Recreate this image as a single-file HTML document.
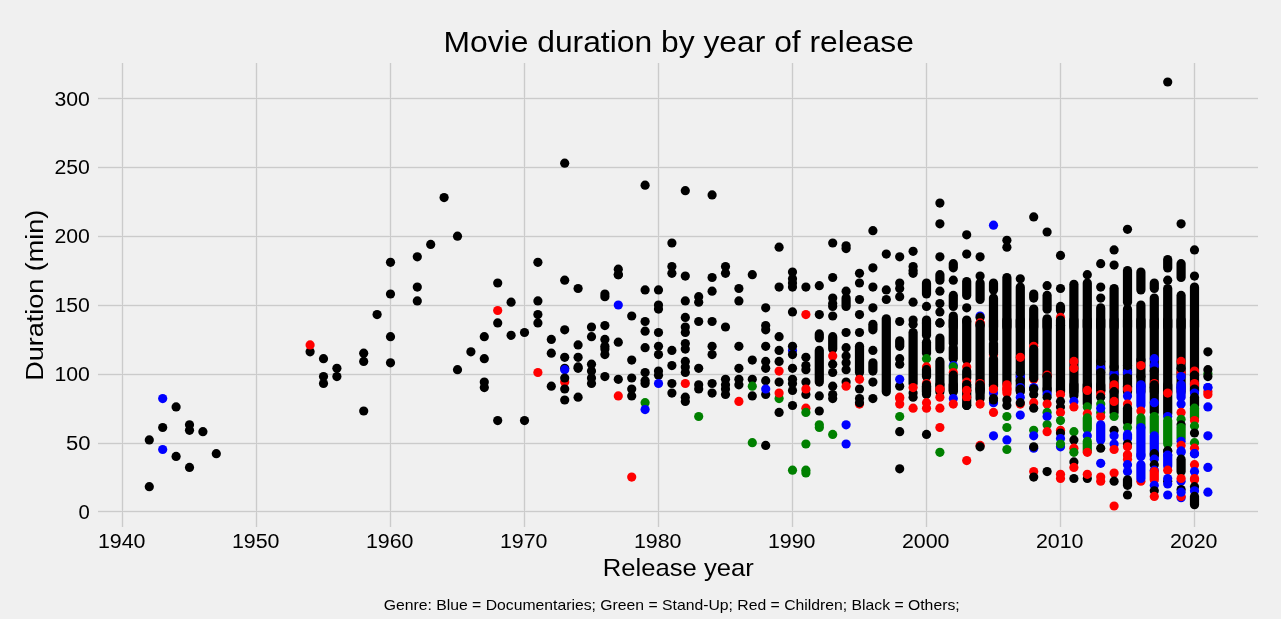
<!DOCTYPE html>
<html><head><meta charset="utf-8"><style>
html,body{margin:0;padding:0;background:#f0f0f0;width:1281px;height:619px;overflow:hidden}
svg{display:block;will-change:transform;font-family:"Liberation Sans",sans-serif}
</style></head><body>
<svg width="1281" height="619" viewBox="0 0 1281 619">
<rect width="1281" height="619" fill="#f0f0f0"/>
<g shape-rendering="crispEdges">
<rect x="121" y="63" width="3" height="464" fill="#e9e9e9"/>
<rect x="255" y="63" width="3" height="464" fill="#e9e9e9"/>
<rect x="389" y="63" width="3" height="464" fill="#e9e9e9"/>
<rect x="523" y="63" width="3" height="464" fill="#e9e9e9"/>
<rect x="657" y="63" width="3" height="464" fill="#e9e9e9"/>
<rect x="791" y="63" width="3" height="464" fill="#e9e9e9"/>
<rect x="925" y="63" width="3" height="464" fill="#e9e9e9"/>
<rect x="1059" y="63" width="3" height="464" fill="#e9e9e9"/>
<rect x="1193" y="63" width="3" height="464" fill="#e9e9e9"/>
<rect x="98" y="510" width="1160" height="3" fill="#e9e9e9"/>
<rect x="98" y="442" width="1160" height="3" fill="#e9e9e9"/>
<rect x="98" y="373" width="1160" height="3" fill="#e9e9e9"/>
<rect x="98" y="304" width="1160" height="3" fill="#e9e9e9"/>
<rect x="98" y="235" width="1160" height="3" fill="#e9e9e9"/>
<rect x="98" y="166" width="1160" height="3" fill="#e9e9e9"/>
<rect x="98" y="97" width="1160" height="3" fill="#e9e9e9"/>
<rect x="122" y="63" width="1" height="464" fill="#cbcbcb"/>
<rect x="256" y="63" width="1" height="464" fill="#cbcbcb"/>
<rect x="390" y="63" width="1" height="464" fill="#cbcbcb"/>
<rect x="524" y="63" width="1" height="464" fill="#cbcbcb"/>
<rect x="658" y="63" width="1" height="464" fill="#cbcbcb"/>
<rect x="792" y="63" width="1" height="464" fill="#cbcbcb"/>
<rect x="926" y="63" width="1" height="464" fill="#cbcbcb"/>
<rect x="1060" y="63" width="1" height="464" fill="#cbcbcb"/>
<rect x="1194" y="63" width="1" height="464" fill="#cbcbcb"/>
<rect x="98" y="511" width="1160" height="1" fill="#cbcbcb"/>
<rect x="98" y="443" width="1160" height="1" fill="#cbcbcb"/>
<rect x="98" y="374" width="1160" height="1" fill="#cbcbcb"/>
<rect x="98" y="305" width="1160" height="1" fill="#cbcbcb"/>
<rect x="98" y="236" width="1160" height="1" fill="#cbcbcb"/>
<rect x="98" y="167" width="1160" height="1" fill="#cbcbcb"/>
<rect x="98" y="98" width="1160" height="1" fill="#cbcbcb"/>
</g>
<g font-size="20.1" fill="#000">
<text x="78.6" y="518.6" textLength="11.3" lengthAdjust="spacingAndGlyphs">0</text><text x="66.1" y="449.8" textLength="24.51" lengthAdjust="spacingAndGlyphs">50</text><text x="54.4" y="380.9" textLength="35.43" lengthAdjust="spacingAndGlyphs">100</text><text x="54.4" y="312.1" textLength="35.43" lengthAdjust="spacingAndGlyphs">150</text><text x="54.4" y="243.3" textLength="35.43" lengthAdjust="spacingAndGlyphs">200</text><text x="54.4" y="174.4" textLength="35.43" lengthAdjust="spacingAndGlyphs">250</text><text x="54.4" y="105.6" textLength="35.43" lengthAdjust="spacingAndGlyphs">300</text>
<text x="97.9" y="548.0" textLength="47.62" lengthAdjust="spacingAndGlyphs">1940</text><text x="231.9" y="548.0" textLength="47.62" lengthAdjust="spacingAndGlyphs">1950</text><text x="365.9" y="548.0" textLength="47.62" lengthAdjust="spacingAndGlyphs">1960</text><text x="499.9" y="548.0" textLength="47.62" lengthAdjust="spacingAndGlyphs">1970</text><text x="633.9" y="548.0" textLength="47.62" lengthAdjust="spacingAndGlyphs">1980</text><text x="767.9" y="548.0" textLength="47.62" lengthAdjust="spacingAndGlyphs">1990</text><text x="901.9" y="548.0" textLength="47.62" lengthAdjust="spacingAndGlyphs">2000</text><text x="1035.9" y="548.0" textLength="47.62" lengthAdjust="spacingAndGlyphs">2010</text><text x="1169.9" y="548.0" textLength="47.62" lengthAdjust="spacingAndGlyphs">2020</text>
</g>
<text x="443.5" y="51.9" font-size="30.3" textLength="470.37" lengthAdjust="spacingAndGlyphs">Movie duration by year of release</text>
<text x="602.75" y="576" font-size="24.8" textLength="150.98" lengthAdjust="spacingAndGlyphs">Release year</text>
<text transform="translate(43.2 380.8) rotate(-90)" x="0" y="0" font-size="24.8" textLength="171.17" lengthAdjust="spacingAndGlyphs">Duration (min)</text>
<text x="383.7" y="610.2" font-size="14.4" textLength="575.95" lengthAdjust="spacingAndGlyphs">Genre: Blue = Documentaries; Green = Stand-Up; Red = Children; Black = Others;</text>
<g>
<circle cx="149.3" cy="439.9" r="4.6" fill="#000"/>
<circle cx="149.3" cy="486.7" r="4.6" fill="#000"/>
<circle cx="162.7" cy="398.6" r="4.6" fill="#00f"/>
<circle cx="162.7" cy="427.5" r="4.6" fill="#000"/>
<circle cx="162.7" cy="449.5" r="4.6" fill="#00f"/>
<circle cx="176.1" cy="406.9" r="4.6" fill="#000"/>
<circle cx="176.1" cy="456.4" r="4.6" fill="#000"/>
<circle cx="189.5" cy="424.8" r="4.6" fill="#000"/>
<circle cx="189.5" cy="430.3" r="4.6" fill="#000"/>
<circle cx="189.5" cy="467.4" r="4.6" fill="#000"/>
<circle cx="202.9" cy="431.7" r="4.6" fill="#000"/>
<circle cx="216.3" cy="453.7" r="4.6" fill="#000"/>
<circle cx="310.1" cy="351.8" r="4.6" fill="#000"/>
<circle cx="310.1" cy="344.9" r="4.6" fill="#f00"/>
<circle cx="323.5" cy="358.7" r="4.6" fill="#000"/>
<circle cx="323.5" cy="376.6" r="4.6" fill="#000"/>
<circle cx="323.5" cy="383.5" r="4.6" fill="#000"/>
<circle cx="336.9" cy="368.3" r="4.6" fill="#000"/>
<circle cx="336.9" cy="376.6" r="4.6" fill="#000"/>
<circle cx="363.7" cy="353.2" r="4.6" fill="#000"/>
<circle cx="363.7" cy="361.4" r="4.6" fill="#000"/>
<circle cx="363.7" cy="411.0" r="4.6" fill="#000"/>
<circle cx="377.1" cy="314.6" r="4.6" fill="#000"/>
<circle cx="390.5" cy="262.3" r="4.6" fill="#000"/>
<circle cx="390.5" cy="294.0" r="4.6" fill="#000"/>
<circle cx="390.5" cy="336.7" r="4.6" fill="#000"/>
<circle cx="390.5" cy="362.8" r="4.6" fill="#000"/>
<circle cx="417.3" cy="256.8" r="4.6" fill="#000"/>
<circle cx="430.7" cy="244.4" r="4.6" fill="#000"/>
<circle cx="444.1" cy="197.6" r="4.6" fill="#000"/>
<circle cx="457.5" cy="236.2" r="4.6" fill="#000"/>
<circle cx="537.9" cy="262.3" r="4.6" fill="#000"/>
<circle cx="564.7" cy="163.2" r="4.6" fill="#000"/>
<circle cx="618.3" cy="269.2" r="4.6" fill="#000"/>
<circle cx="618.3" cy="274.7" r="4.6" fill="#000"/>
<circle cx="645.1" cy="185.2" r="4.6" fill="#000"/>
<circle cx="417.3" cy="287.1" r="4.6" fill="#000"/>
<circle cx="417.3" cy="300.9" r="4.6" fill="#000"/>
<circle cx="457.5" cy="369.7" r="4.6" fill="#000"/>
<circle cx="470.9" cy="351.8" r="4.6" fill="#000"/>
<circle cx="484.3" cy="336.7" r="4.6" fill="#000"/>
<circle cx="484.3" cy="358.7" r="4.6" fill="#000"/>
<circle cx="484.3" cy="382.1" r="4.6" fill="#000"/>
<circle cx="484.3" cy="387.6" r="4.6" fill="#000"/>
<circle cx="497.7" cy="283.0" r="4.6" fill="#000"/>
<circle cx="497.7" cy="322.9" r="4.6" fill="#000"/>
<circle cx="497.7" cy="310.5" r="4.6" fill="#f00"/>
<circle cx="511.1" cy="302.2" r="4.6" fill="#000"/>
<circle cx="511.1" cy="335.3" r="4.6" fill="#000"/>
<circle cx="524.5" cy="332.5" r="4.6" fill="#000"/>
<circle cx="537.9" cy="300.9" r="4.6" fill="#000"/>
<circle cx="537.9" cy="314.6" r="4.6" fill="#000"/>
<circle cx="537.9" cy="322.9" r="4.6" fill="#000"/>
<circle cx="537.9" cy="372.5" r="4.6" fill="#f00"/>
<circle cx="551.3" cy="339.4" r="4.6" fill="#000"/>
<circle cx="551.3" cy="353.2" r="4.6" fill="#000"/>
<circle cx="551.3" cy="386.2" r="4.6" fill="#000"/>
<circle cx="564.7" cy="280.2" r="4.6" fill="#000"/>
<circle cx="564.7" cy="329.8" r="4.6" fill="#000"/>
<circle cx="564.7" cy="357.3" r="4.6" fill="#000"/>
<circle cx="564.7" cy="368.3" r="4.6" fill="#000"/>
<circle cx="564.7" cy="369.7" r="4.6" fill="#00f"/>
<circle cx="564.7" cy="382.1" r="4.6" fill="#f00"/>
<circle cx="564.7" cy="378.0" r="4.6" fill="#000"/>
<circle cx="564.7" cy="389.0" r="4.6" fill="#000"/>
<circle cx="578.1" cy="288.5" r="4.6" fill="#000"/>
<circle cx="578.1" cy="344.9" r="4.6" fill="#000"/>
<circle cx="578.1" cy="357.3" r="4.6" fill="#000"/>
<circle cx="578.1" cy="366.9" r="4.6" fill="#000"/>
<circle cx="578.1" cy="368.3" r="4.6" fill="#000"/>
<circle cx="591.5" cy="327.0" r="4.6" fill="#000"/>
<circle cx="591.5" cy="336.7" r="4.6" fill="#000"/>
<circle cx="591.5" cy="364.2" r="4.6" fill="#000"/>
<circle cx="591.5" cy="371.1" r="4.6" fill="#000"/>
<circle cx="591.5" cy="378.0" r="4.6" fill="#000"/>
<circle cx="591.5" cy="383.5" r="4.6" fill="#000"/>
<circle cx="604.9" cy="294.0" r="4.6" fill="#000"/>
<circle cx="604.9" cy="296.7" r="4.6" fill="#000"/>
<circle cx="604.9" cy="325.6" r="4.6" fill="#000"/>
<circle cx="604.9" cy="339.4" r="4.6" fill="#000"/>
<circle cx="604.9" cy="346.3" r="4.6" fill="#000"/>
<circle cx="604.9" cy="349.1" r="4.6" fill="#000"/>
<circle cx="604.9" cy="354.6" r="4.6" fill="#000"/>
<circle cx="604.9" cy="376.6" r="4.6" fill="#000"/>
<circle cx="618.3" cy="274.7" r="4.6" fill="#000"/>
<circle cx="618.3" cy="305.0" r="4.6" fill="#00f"/>
<circle cx="618.3" cy="342.2" r="4.6" fill="#000"/>
<circle cx="618.3" cy="379.3" r="4.6" fill="#000"/>
<circle cx="618.3" cy="395.9" r="4.6" fill="#f00"/>
<circle cx="631.7" cy="316.0" r="4.6" fill="#000"/>
<circle cx="631.7" cy="360.1" r="4.6" fill="#000"/>
<circle cx="631.7" cy="378.0" r="4.6" fill="#000"/>
<circle cx="631.7" cy="389.0" r="4.6" fill="#000"/>
<circle cx="631.7" cy="395.9" r="4.6" fill="#000"/>
<circle cx="645.1" cy="289.9" r="4.6" fill="#000"/>
<circle cx="645.1" cy="321.5" r="4.6" fill="#000"/>
<circle cx="645.1" cy="331.2" r="4.6" fill="#000"/>
<circle cx="645.1" cy="347.7" r="4.6" fill="#000"/>
<circle cx="645.1" cy="372.5" r="4.6" fill="#000"/>
<circle cx="645.1" cy="380.7" r="4.6" fill="#000"/>
<circle cx="645.1" cy="383.5" r="4.6" fill="#000"/>
<circle cx="658.5" cy="289.9" r="4.6" fill="#000"/>
<circle cx="658.5" cy="305.0" r="4.6" fill="#000"/>
<circle cx="658.5" cy="309.1" r="4.6" fill="#000"/>
<circle cx="658.5" cy="332.5" r="4.6" fill="#000"/>
<circle cx="658.5" cy="346.3" r="4.6" fill="#000"/>
<circle cx="658.5" cy="354.6" r="4.6" fill="#000"/>
<circle cx="658.5" cy="371.1" r="4.6" fill="#000"/>
<circle cx="658.5" cy="375.2" r="4.6" fill="#000"/>
<circle cx="658.5" cy="383.5" r="4.6" fill="#00f"/>
<circle cx="497.7" cy="420.6" r="4.6" fill="#000"/>
<circle cx="524.5" cy="420.6" r="4.6" fill="#000"/>
<circle cx="564.7" cy="400.0" r="4.6" fill="#000"/>
<circle cx="578.1" cy="397.2" r="4.6" fill="#000"/>
<circle cx="645.1" cy="402.7" r="4.6" fill="#008000"/>
<circle cx="645.1" cy="409.6" r="4.6" fill="#00f"/>
<circle cx="631.7" cy="477.1" r="4.6" fill="#f00"/>
<circle cx="671.9" cy="243.0" r="4.6" fill="#000"/>
<circle cx="671.9" cy="266.5" r="4.6" fill="#000"/>
<circle cx="671.9" cy="273.3" r="4.6" fill="#000"/>
<circle cx="685.3" cy="190.7" r="4.6" fill="#000"/>
<circle cx="685.3" cy="276.1" r="4.6" fill="#000"/>
<circle cx="712.1" cy="194.9" r="4.6" fill="#000"/>
<circle cx="712.1" cy="277.5" r="4.6" fill="#000"/>
<circle cx="725.5" cy="266.5" r="4.6" fill="#000"/>
<circle cx="725.5" cy="273.3" r="4.6" fill="#000"/>
<circle cx="752.3" cy="274.7" r="4.6" fill="#000"/>
<circle cx="779.1" cy="247.2" r="4.6" fill="#000"/>
<circle cx="792.5" cy="272.0" r="4.6" fill="#000"/>
<circle cx="832.7" cy="243.0" r="4.6" fill="#000"/>
<circle cx="832.7" cy="277.5" r="4.6" fill="#000"/>
<circle cx="846.1" cy="245.8" r="4.6" fill="#000"/>
<circle cx="846.1" cy="248.6" r="4.6" fill="#000"/>
<circle cx="859.5" cy="273.3" r="4.6" fill="#000"/>
<circle cx="872.9" cy="230.7" r="4.6" fill="#000"/>
<circle cx="872.9" cy="267.8" r="4.6" fill="#000"/>
<circle cx="886.3" cy="254.1" r="4.6" fill="#000"/>
<circle cx="899.7" cy="256.8" r="4.6" fill="#000"/>
<circle cx="913.1" cy="251.3" r="4.6" fill="#000"/>
<circle cx="913.1" cy="266.5" r="4.6" fill="#000"/>
<circle cx="913.1" cy="270.6" r="4.6" fill="#000"/>
<circle cx="913.1" cy="273.3" r="4.6" fill="#000"/>
<circle cx="671.9" cy="350.4" r="4.6" fill="#000"/>
<circle cx="671.9" cy="365.6" r="4.6" fill="#000"/>
<circle cx="671.9" cy="383.5" r="4.6" fill="#000"/>
<circle cx="671.9" cy="393.1" r="4.6" fill="#000"/>
<circle cx="685.3" cy="300.9" r="4.6" fill="#000"/>
<circle cx="685.3" cy="317.4" r="4.6" fill="#000"/>
<circle cx="685.3" cy="327.0" r="4.6" fill="#000"/>
<circle cx="685.3" cy="332.5" r="4.6" fill="#000"/>
<circle cx="685.3" cy="343.5" r="4.6" fill="#000"/>
<circle cx="685.3" cy="349.1" r="4.6" fill="#000"/>
<circle cx="685.3" cy="361.4" r="4.6" fill="#000"/>
<circle cx="685.3" cy="366.9" r="4.6" fill="#000"/>
<circle cx="685.3" cy="372.5" r="4.6" fill="#000"/>
<circle cx="685.3" cy="397.2" r="4.6" fill="#000"/>
<circle cx="685.3" cy="383.5" r="4.6" fill="#f00"/>
<circle cx="698.7" cy="296.7" r="4.6" fill="#000"/>
<circle cx="698.7" cy="302.2" r="4.6" fill="#000"/>
<circle cx="698.7" cy="321.5" r="4.6" fill="#000"/>
<circle cx="698.7" cy="368.3" r="4.6" fill="#000"/>
<circle cx="698.7" cy="384.8" r="4.6" fill="#000"/>
<circle cx="698.7" cy="389.0" r="4.6" fill="#000"/>
<circle cx="712.1" cy="291.2" r="4.6" fill="#000"/>
<circle cx="712.1" cy="321.5" r="4.6" fill="#000"/>
<circle cx="712.1" cy="346.3" r="4.6" fill="#000"/>
<circle cx="712.1" cy="354.6" r="4.6" fill="#000"/>
<circle cx="712.1" cy="383.5" r="4.6" fill="#000"/>
<circle cx="712.1" cy="393.1" r="4.6" fill="#000"/>
<circle cx="725.5" cy="327.0" r="4.6" fill="#000"/>
<circle cx="725.5" cy="379.3" r="4.6" fill="#000"/>
<circle cx="725.5" cy="384.8" r="4.6" fill="#000"/>
<circle cx="725.5" cy="389.0" r="4.6" fill="#000"/>
<circle cx="725.5" cy="394.5" r="4.6" fill="#000"/>
<circle cx="738.9" cy="288.5" r="4.6" fill="#000"/>
<circle cx="738.9" cy="300.9" r="4.6" fill="#000"/>
<circle cx="738.9" cy="346.3" r="4.6" fill="#000"/>
<circle cx="738.9" cy="368.3" r="4.6" fill="#000"/>
<circle cx="738.9" cy="379.3" r="4.6" fill="#000"/>
<circle cx="738.9" cy="384.8" r="4.6" fill="#000"/>
<circle cx="752.3" cy="360.1" r="4.6" fill="#000"/>
<circle cx="752.3" cy="379.3" r="4.6" fill="#000"/>
<circle cx="752.3" cy="395.9" r="4.6" fill="#000"/>
<circle cx="752.3" cy="386.2" r="4.6" fill="#008000"/>
<circle cx="765.7" cy="307.8" r="4.6" fill="#000"/>
<circle cx="765.7" cy="325.6" r="4.6" fill="#000"/>
<circle cx="765.7" cy="329.8" r="4.6" fill="#000"/>
<circle cx="765.7" cy="346.3" r="4.6" fill="#000"/>
<circle cx="765.7" cy="361.4" r="4.6" fill="#000"/>
<circle cx="765.7" cy="368.3" r="4.6" fill="#000"/>
<circle cx="765.7" cy="380.7" r="4.6" fill="#000"/>
<circle cx="765.7" cy="394.5" r="4.6" fill="#000"/>
<circle cx="765.7" cy="389.0" r="4.6" fill="#00f"/>
<circle cx="779.1" cy="287.1" r="4.6" fill="#000"/>
<circle cx="779.1" cy="336.7" r="4.6" fill="#000"/>
<circle cx="779.1" cy="350.4" r="4.6" fill="#000"/>
<circle cx="779.1" cy="361.4" r="4.6" fill="#000"/>
<circle cx="779.1" cy="382.1" r="4.6" fill="#000"/>
<circle cx="779.1" cy="371.1" r="4.6" fill="#f00"/>
<circle cx="779.1" cy="398.6" r="4.6" fill="#008000"/>
<circle cx="779.1" cy="393.1" r="4.6" fill="#f00"/>
<circle cx="792.5" cy="278.8" r="4.6" fill="#000"/>
<circle cx="792.5" cy="283.0" r="4.6" fill="#000"/>
<circle cx="792.5" cy="287.1" r="4.6" fill="#000"/>
<circle cx="792.5" cy="311.9" r="4.6" fill="#000"/>
<circle cx="792.5" cy="350.4" r="4.6" fill="#00f"/>
<circle cx="792.5" cy="346.3" r="4.6" fill="#000"/>
<circle cx="792.5" cy="354.6" r="4.6" fill="#000"/>
<circle cx="792.5" cy="368.3" r="4.6" fill="#000"/>
<circle cx="792.5" cy="379.3" r="4.6" fill="#000"/>
<circle cx="792.5" cy="383.5" r="4.6" fill="#000"/>
<circle cx="792.5" cy="390.4" r="4.6" fill="#000"/>
<circle cx="805.9" cy="287.1" r="4.6" fill="#000"/>
<circle cx="805.9" cy="357.3" r="4.6" fill="#000"/>
<circle cx="805.9" cy="365.6" r="4.6" fill="#000"/>
<circle cx="805.9" cy="369.7" r="4.6" fill="#000"/>
<circle cx="805.9" cy="382.1" r="4.6" fill="#000"/>
<circle cx="805.9" cy="394.5" r="4.6" fill="#000"/>
<circle cx="805.9" cy="314.6" r="4.6" fill="#f00"/>
<circle cx="805.9" cy="389.0" r="4.6" fill="#f00"/>
<circle cx="819.3" cy="285.7" r="4.6" fill="#000"/>
<circle cx="819.3" cy="314.6" r="4.6" fill="#000"/>
<rect x="814.7" y="329.3" width="9.2" height="13.3" rx="4.6" fill="#000"/>
<rect x="814.7" y="345.8" width="9.2" height="40.9" rx="4.6" fill="#000"/>
<circle cx="819.3" cy="395.9" r="4.6" fill="#000"/>
<circle cx="832.7" cy="298.1" r="4.6" fill="#000"/>
<circle cx="832.7" cy="303.6" r="4.6" fill="#000"/>
<circle cx="832.7" cy="306.4" r="4.6" fill="#000"/>
<circle cx="832.7" cy="316.0" r="4.6" fill="#000"/>
<rect x="828.1" y="332.1" width="9.2" height="21.6" rx="4.6" fill="#000"/>
<circle cx="832.7" cy="355.9" r="4.6" fill="#f00"/>
<circle cx="832.7" cy="364.2" r="4.6" fill="#000"/>
<circle cx="832.7" cy="372.5" r="4.6" fill="#000"/>
<circle cx="832.7" cy="386.2" r="4.6" fill="#000"/>
<circle cx="832.7" cy="394.5" r="4.6" fill="#000"/>
<circle cx="832.7" cy="398.6" r="4.6" fill="#000"/>
<circle cx="846.1" cy="291.2" r="4.6" fill="#000"/>
<rect x="841.5" y="293.5" width="9.2" height="17.5" rx="4.6" fill="#000"/>
<circle cx="846.1" cy="332.5" r="4.6" fill="#000"/>
<circle cx="846.1" cy="347.7" r="4.6" fill="#000"/>
<circle cx="846.1" cy="355.9" r="4.6" fill="#000"/>
<circle cx="846.1" cy="362.8" r="4.6" fill="#000"/>
<circle cx="846.1" cy="369.7" r="4.6" fill="#000"/>
<circle cx="846.1" cy="382.1" r="4.6" fill="#000"/>
<circle cx="846.1" cy="386.2" r="4.6" fill="#f00"/>
<circle cx="859.5" cy="283.0" r="4.6" fill="#000"/>
<circle cx="859.5" cy="299.5" r="4.6" fill="#000"/>
<circle cx="859.5" cy="314.6" r="4.6" fill="#000"/>
<circle cx="859.5" cy="332.5" r="4.6" fill="#000"/>
<rect x="854.9" y="341.7" width="9.2" height="35.4" rx="4.6" fill="#000"/>
<circle cx="859.5" cy="389.0" r="4.6" fill="#000"/>
<circle cx="859.5" cy="398.6" r="4.6" fill="#000"/>
<circle cx="859.5" cy="379.3" r="4.6" fill="#f00"/>
<circle cx="872.9" cy="287.1" r="4.6" fill="#000"/>
<circle cx="872.9" cy="307.8" r="4.6" fill="#000"/>
<rect x="868.3" y="319.7" width="9.2" height="14.7" rx="4.6" fill="#000"/>
<circle cx="872.9" cy="350.4" r="4.6" fill="#000"/>
<rect x="868.3" y="358.2" width="9.2" height="17.5" rx="4.6" fill="#000"/>
<circle cx="872.9" cy="382.1" r="4.6" fill="#000"/>
<circle cx="872.9" cy="398.6" r="4.6" fill="#000"/>
<circle cx="886.3" cy="289.9" r="4.6" fill="#000"/>
<circle cx="886.3" cy="299.5" r="4.6" fill="#000"/>
<rect x="881.7" y="314.2" width="9.2" height="82.2" rx="4.6" fill="#000"/>
<circle cx="899.7" cy="283.0" r="4.6" fill="#000"/>
<circle cx="899.7" cy="288.5" r="4.6" fill="#000"/>
<circle cx="899.7" cy="296.7" r="4.6" fill="#000"/>
<circle cx="899.7" cy="321.5" r="4.6" fill="#000"/>
<rect x="895.1" y="336.2" width="9.2" height="14.7" rx="4.6" fill="#000"/>
<circle cx="899.7" cy="358.7" r="4.6" fill="#000"/>
<circle cx="899.7" cy="364.2" r="4.6" fill="#000"/>
<circle cx="899.7" cy="386.2" r="4.6" fill="#000"/>
<circle cx="899.7" cy="379.3" r="4.6" fill="#00f"/>
<circle cx="899.7" cy="397.2" r="4.6" fill="#f00"/>
<circle cx="913.1" cy="302.2" r="4.6" fill="#000"/>
<circle cx="913.1" cy="320.1" r="4.6" fill="#000"/>
<circle cx="913.1" cy="324.3" r="4.6" fill="#000"/>
<rect x="908.5" y="327.9" width="9.2" height="60.1" rx="4.6" fill="#000"/>
<circle cx="913.1" cy="393.1" r="4.6" fill="#000"/>
<circle cx="913.1" cy="397.2" r="4.6" fill="#000"/>
<circle cx="913.1" cy="387.6" r="4.6" fill="#f00"/>
<circle cx="685.3" cy="401.4" r="4.6" fill="#000"/>
<circle cx="698.7" cy="416.5" r="4.6" fill="#008000"/>
<circle cx="738.9" cy="401.4" r="4.6" fill="#f00"/>
<circle cx="752.3" cy="442.7" r="4.6" fill="#008000"/>
<circle cx="765.7" cy="445.4" r="4.6" fill="#000"/>
<circle cx="779.1" cy="412.4" r="4.6" fill="#000"/>
<circle cx="792.5" cy="405.5" r="4.6" fill="#000"/>
<circle cx="792.5" cy="470.2" r="4.6" fill="#008000"/>
<circle cx="805.9" cy="408.2" r="4.6" fill="#f00"/>
<circle cx="805.9" cy="412.4" r="4.6" fill="#008000"/>
<circle cx="805.9" cy="444.0" r="4.6" fill="#008000"/>
<circle cx="805.9" cy="470.2" r="4.6" fill="#008000"/>
<circle cx="805.9" cy="473.0" r="4.6" fill="#008000"/>
<circle cx="819.3" cy="411.0" r="4.6" fill="#000"/>
<circle cx="819.3" cy="424.8" r="4.6" fill="#008000"/>
<circle cx="819.3" cy="427.5" r="4.6" fill="#008000"/>
<circle cx="832.7" cy="434.4" r="4.6" fill="#008000"/>
<circle cx="846.1" cy="424.8" r="4.6" fill="#00f"/>
<circle cx="846.1" cy="444.0" r="4.6" fill="#00f"/>
<circle cx="859.5" cy="404.1" r="4.6" fill="#f00"/>
<circle cx="859.5" cy="402.7" r="4.6" fill="#000"/>
<circle cx="899.7" cy="404.1" r="4.6" fill="#f00"/>
<circle cx="899.7" cy="398.6" r="4.6" fill="#f00"/>
<circle cx="899.7" cy="416.5" r="4.6" fill="#008000"/>
<circle cx="899.7" cy="431.7" r="4.6" fill="#000"/>
<circle cx="899.7" cy="468.8" r="4.6" fill="#000"/>
<circle cx="913.1" cy="408.2" r="4.6" fill="#f00"/>
<circle cx="1167.7" cy="82.0" r="4.6" fill="#000"/>
<circle cx="939.9" cy="203.1" r="4.6" fill="#000"/>
<circle cx="939.9" cy="223.8" r="4.6" fill="#000"/>
<circle cx="939.9" cy="256.8" r="4.6" fill="#000"/>
<circle cx="966.7" cy="234.8" r="4.6" fill="#000"/>
<circle cx="966.7" cy="254.1" r="4.6" fill="#000"/>
<circle cx="980.1" cy="256.8" r="4.6" fill="#000"/>
<circle cx="993.5" cy="225.2" r="4.6" fill="#00f"/>
<circle cx="1006.9" cy="240.3" r="4.6" fill="#000"/>
<circle cx="1006.9" cy="247.2" r="4.6" fill="#000"/>
<circle cx="1033.7" cy="216.9" r="4.6" fill="#000"/>
<circle cx="1047.1" cy="232.0" r="4.6" fill="#000"/>
<circle cx="1060.5" cy="255.4" r="4.6" fill="#000"/>
<circle cx="1114.1" cy="249.9" r="4.6" fill="#000"/>
<circle cx="1127.5" cy="229.3" r="4.6" fill="#000"/>
<circle cx="1181.1" cy="223.8" r="4.6" fill="#000"/>
<circle cx="1194.5" cy="249.9" r="4.6" fill="#000"/>
<rect x="921.9" y="278.4" width="9.2" height="20.2" rx="4.6" fill="#000"/>
<circle cx="926.5" cy="306.4" r="4.6" fill="#000"/>
<circle cx="926.5" cy="322.9" r="4.6" fill="#000"/>
<rect x="935.3" y="270.1" width="9.2" height="14.7" rx="4.6" fill="#000"/>
<circle cx="939.9" cy="291.2" r="4.6" fill="#000"/>
<circle cx="939.9" cy="303.6" r="4.6" fill="#000"/>
<circle cx="939.9" cy="311.9" r="4.6" fill="#000"/>
<circle cx="939.9" cy="322.9" r="4.6" fill="#000"/>
<rect x="948.7" y="259.1" width="9.2" height="13.3" rx="4.6" fill="#000"/>
<circle cx="953.3" cy="280.2" r="4.6" fill="#000"/>
<rect x="948.7" y="290.8" width="9.2" height="20.2" rx="4.6" fill="#000"/>
<rect x="948.7" y="311.4" width="9.2" height="20.2" rx="4.6" fill="#000"/>
<rect x="962.1" y="277.0" width="9.2" height="23.0" rx="4.6" fill="#000"/>
<circle cx="966.7" cy="307.8" r="4.6" fill="#000"/>
<circle cx="966.7" cy="321.5" r="4.6" fill="#000"/>
<circle cx="980.1" cy="276.1" r="4.6" fill="#000"/>
<rect x="975.5" y="278.4" width="9.2" height="25.7" rx="4.6" fill="#000"/>
<circle cx="980.1" cy="316.0" r="4.6" fill="#00f"/>
<circle cx="980.1" cy="322.9" r="4.6" fill="#f00"/>
<circle cx="980.1" cy="317.4" r="4.6" fill="#000"/>
<circle cx="980.1" cy="325.6" r="4.6" fill="#000"/>
<rect x="988.9" y="278.4" width="9.2" height="16.1" rx="4.6" fill="#000"/>
<rect x="988.9" y="293.5" width="9.2" height="38.1" rx="4.6" fill="#000"/>
<rect x="1002.3" y="272.9" width="9.2" height="58.8" rx="4.6" fill="#000"/>
<circle cx="1020.3" cy="278.8" r="4.6" fill="#000"/>
<rect x="1015.7" y="282.5" width="9.2" height="49.1" rx="4.6" fill="#000"/>
<rect x="1029.1" y="289.4" width="9.2" height="13.3" rx="4.6" fill="#000"/>
<rect x="1029.1" y="304.5" width="9.2" height="27.1" rx="4.6" fill="#000"/>
<circle cx="1047.1" cy="285.7" r="4.6" fill="#000"/>
<rect x="1042.5" y="290.8" width="9.2" height="23.0" rx="4.6" fill="#000"/>
<rect x="1042.5" y="314.2" width="9.2" height="17.5" rx="4.6" fill="#000"/>
<circle cx="1060.5" cy="288.5" r="4.6" fill="#000"/>
<rect x="1055.9" y="301.8" width="9.2" height="13.3" rx="4.6" fill="#000"/>
<circle cx="1060.5" cy="317.4" r="4.6" fill="#f00"/>
<circle cx="1060.5" cy="325.6" r="4.6" fill="#000"/>
<rect x="1069.3" y="279.7" width="9.2" height="51.9" rx="4.6" fill="#000"/>
<circle cx="1087.3" cy="274.7" r="4.6" fill="#000"/>
<rect x="1082.7" y="278.4" width="9.2" height="53.3" rx="4.6" fill="#000"/>
<circle cx="1100.7" cy="263.7" r="4.6" fill="#000"/>
<circle cx="1100.7" cy="287.1" r="4.6" fill="#000"/>
<circle cx="1100.7" cy="298.1" r="4.6" fill="#000"/>
<rect x="1096.1" y="303.2" width="9.2" height="28.5" rx="4.6" fill="#000"/>
<circle cx="1114.1" cy="265.1" r="4.6" fill="#000"/>
<rect x="1109.5" y="283.9" width="9.2" height="47.7" rx="4.6" fill="#000"/>
<rect x="1122.9" y="266.0" width="9.2" height="40.9" rx="4.6" fill="#000"/>
<rect x="1122.9" y="304.5" width="9.2" height="27.1" rx="4.6" fill="#000"/>
<rect x="1136.3" y="267.4" width="9.2" height="27.1" rx="4.6" fill="#000"/>
<rect x="1136.3" y="300.4" width="9.2" height="31.2" rx="4.6" fill="#000"/>
<rect x="1149.7" y="278.4" width="9.2" height="14.7" rx="4.6" fill="#000"/>
<rect x="1149.7" y="293.5" width="9.2" height="38.1" rx="4.6" fill="#000"/>
<rect x="1163.1" y="255.0" width="9.2" height="17.5" rx="4.6" fill="#000"/>
<circle cx="1167.7" cy="280.2" r="4.6" fill="#000"/>
<rect x="1163.1" y="283.9" width="9.2" height="47.7" rx="4.6" fill="#000"/>
<rect x="1176.5" y="259.1" width="9.2" height="23.0" rx="4.6" fill="#000"/>
<rect x="1176.5" y="290.8" width="9.2" height="40.9" rx="4.6" fill="#000"/>
<circle cx="1194.5" cy="276.1" r="4.6" fill="#000"/>
<rect x="1189.9" y="282.5" width="9.2" height="49.1" rx="4.6" fill="#000"/>
<rect x="921.9" y="315.5" width="9.2" height="24.3" rx="4.6" fill="#000"/>
<rect x="921.9" y="337.6" width="9.2" height="20.2" rx="4.6" fill="#000"/>
<circle cx="926.5" cy="358.7" r="4.6" fill="#008000"/>
<circle cx="926.5" cy="366.9" r="4.6" fill="#f00"/>
<rect x="921.9" y="365.1" width="9.2" height="16.1" rx="4.6" fill="#000"/>
<circle cx="926.5" cy="383.5" r="4.6" fill="#f00"/>
<rect x="921.9" y="381.6" width="9.2" height="14.7" rx="4.6" fill="#000"/>
<circle cx="939.9" cy="322.9" r="4.6" fill="#000"/>
<rect x="935.3" y="333.4" width="9.2" height="20.2" rx="4.6" fill="#000"/>
<rect x="935.3" y="356.8" width="9.2" height="39.5" rx="4.6" fill="#000"/>
<circle cx="939.9" cy="389.0" r="4.6" fill="#f00"/>
<rect x="948.7" y="315.5" width="9.2" height="32.6" rx="4.6" fill="#000"/>
<rect x="948.7" y="343.1" width="9.2" height="20.2" rx="4.6" fill="#000"/>
<circle cx="953.3" cy="365.6" r="4.6" fill="#00f"/>
<circle cx="953.3" cy="366.9" r="4.6" fill="#008000"/>
<circle cx="953.3" cy="372.5" r="4.6" fill="#f00"/>
<rect x="948.7" y="370.6" width="9.2" height="25.7" rx="4.6" fill="#000"/>
<rect x="962.1" y="315.5" width="9.2" height="49.1" rx="4.6" fill="#000"/>
<circle cx="966.7" cy="366.9" r="4.6" fill="#f00"/>
<rect x="962.1" y="366.5" width="9.2" height="16.1" rx="4.6" fill="#000"/>
<circle cx="966.7" cy="382.1" r="4.6" fill="#f00"/>
<circle cx="966.7" cy="384.8" r="4.6" fill="#000"/>
<circle cx="966.7" cy="387.6" r="4.6" fill="#f00"/>
<circle cx="966.7" cy="390.4" r="4.6" fill="#000"/>
<circle cx="980.1" cy="322.9" r="4.6" fill="#f00"/>
<rect x="975.5" y="319.7" width="9.2" height="76.7" rx="4.6" fill="#000"/>
<circle cx="980.1" cy="383.5" r="4.6" fill="#f00"/>
<circle cx="980.1" cy="389.0" r="4.6" fill="#000"/>
<rect x="988.9" y="315.5" width="9.2" height="28.5" rx="4.6" fill="#000"/>
<circle cx="993.5" cy="354.6" r="4.6" fill="#f00"/>
<rect x="988.9" y="338.9" width="9.2" height="18.8" rx="4.6" fill="#000"/>
<rect x="988.9" y="354.1" width="9.2" height="36.7" rx="4.6" fill="#000"/>
<circle cx="993.5" cy="389.0" r="4.6" fill="#f00"/>
<rect x="1002.3" y="315.5" width="9.2" height="72.5" rx="4.6" fill="#000"/>
<circle cx="1006.9" cy="389.0" r="4.6" fill="#f00"/>
<rect x="1015.7" y="315.5" width="9.2" height="80.8" rx="4.6" fill="#000"/>
<circle cx="1020.3" cy="357.3" r="4.6" fill="#f00"/>
<circle cx="1020.3" cy="376.6" r="4.6" fill="#00f"/>
<circle cx="1020.3" cy="380.7" r="4.6" fill="#000"/>
<circle cx="1020.3" cy="372.5" r="4.6" fill="#000"/>
<circle cx="1020.3" cy="387.6" r="4.6" fill="#00f"/>
<circle cx="1020.3" cy="390.4" r="4.6" fill="#000"/>
<rect x="1029.1" y="315.5" width="9.2" height="32.6" rx="4.6" fill="#000"/>
<circle cx="1033.7" cy="346.3" r="4.6" fill="#f00"/>
<circle cx="1033.7" cy="379.3" r="4.6" fill="#f00"/>
<rect x="1029.1" y="344.5" width="9.2" height="38.1" rx="4.6" fill="#000"/>
<circle cx="1033.7" cy="387.6" r="4.6" fill="#00f"/>
<circle cx="1033.7" cy="389.0" r="4.6" fill="#000"/>
<rect x="1042.5" y="315.5" width="9.2" height="80.8" rx="4.6" fill="#000"/>
<circle cx="1047.1" cy="375.2" r="4.6" fill="#f00"/>
<circle cx="1047.1" cy="376.6" r="4.6" fill="#000"/>
<rect x="1055.9" y="315.5" width="9.2" height="80.8" rx="4.6" fill="#000"/>
<rect x="1069.3" y="315.5" width="9.2" height="80.8" rx="4.6" fill="#000"/>
<circle cx="1073.9" cy="361.4" r="4.6" fill="#f00"/>
<circle cx="1073.9" cy="368.3" r="4.6" fill="#f00"/>
<rect x="1082.7" y="315.5" width="9.2" height="80.8" rx="4.6" fill="#000"/>
<circle cx="1087.3" cy="389.0" r="4.6" fill="#f00"/>
<rect x="1096.1" y="315.5" width="9.2" height="80.8" rx="4.6" fill="#000"/>
<circle cx="1100.7" cy="368.3" r="4.6" fill="#00f"/>
<circle cx="1100.7" cy="361.4" r="4.6" fill="#000"/>
<circle cx="1100.7" cy="372.5" r="4.6" fill="#000"/>
<circle cx="1100.7" cy="390.4" r="4.6" fill="#f00"/>
<rect x="1109.5" y="315.5" width="9.2" height="80.8" rx="4.6" fill="#000"/>
<circle cx="1114.1" cy="373.8" r="4.6" fill="#00f"/>
<circle cx="1114.1" cy="366.9" r="4.6" fill="#000"/>
<circle cx="1114.1" cy="378.0" r="4.6" fill="#000"/>
<circle cx="1114.1" cy="384.8" r="4.6" fill="#f00"/>
<rect x="1122.9" y="315.5" width="9.2" height="80.8" rx="4.6" fill="#000"/>
<circle cx="1127.5" cy="372.5" r="4.6" fill="#00f"/>
<circle cx="1127.5" cy="365.6" r="4.6" fill="#000"/>
<circle cx="1127.5" cy="378.0" r="4.6" fill="#000"/>
<circle cx="1127.5" cy="387.6" r="4.6" fill="#f00"/>
<rect x="1136.3" y="315.5" width="9.2" height="80.8" rx="4.6" fill="#000"/>
<circle cx="1140.9" cy="360.1" r="4.6" fill="#000"/>
<circle cx="1140.9" cy="365.6" r="4.6" fill="#f00"/>
<circle cx="1140.9" cy="376.6" r="4.6" fill="#000"/>
<circle cx="1140.9" cy="386.2" r="4.6" fill="#00f"/>
<rect x="1149.7" y="315.5" width="9.2" height="80.8" rx="4.6" fill="#000"/>
<circle cx="1154.3" cy="358.7" r="4.6" fill="#00f"/>
<circle cx="1154.3" cy="365.6" r="4.6" fill="#00f"/>
<circle cx="1154.3" cy="371.1" r="4.6" fill="#000"/>
<circle cx="1154.3" cy="383.5" r="4.6" fill="#f00"/>
<circle cx="1154.3" cy="387.6" r="4.6" fill="#000"/>
<rect x="1163.1" y="315.5" width="9.2" height="80.8" rx="4.6" fill="#000"/>
<rect x="1176.5" y="315.5" width="9.2" height="80.8" rx="4.6" fill="#000"/>
<circle cx="1181.1" cy="361.4" r="4.6" fill="#f00"/>
<circle cx="1181.1" cy="372.5" r="4.6" fill="#f00"/>
<circle cx="1181.1" cy="368.3" r="4.6" fill="#000"/>
<circle cx="1181.1" cy="376.6" r="4.6" fill="#00f"/>
<circle cx="1181.1" cy="387.6" r="4.6" fill="#00f"/>
<rect x="1189.9" y="315.5" width="9.2" height="80.8" rx="4.6" fill="#000"/>
<circle cx="1194.5" cy="371.1" r="4.6" fill="#f00"/>
<circle cx="1194.5" cy="375.2" r="4.6" fill="#000"/>
<circle cx="1194.5" cy="383.5" r="4.6" fill="#f00"/>
<circle cx="1194.5" cy="390.4" r="4.6" fill="#00f"/>
<circle cx="1207.9" cy="351.8" r="4.6" fill="#000"/>
<circle cx="1207.9" cy="373.8" r="4.6" fill="#008000"/>
<circle cx="1207.9" cy="369.7" r="4.6" fill="#000"/>
<circle cx="1207.9" cy="376.6" r="4.6" fill="#000"/>
<circle cx="1207.9" cy="387.6" r="4.6" fill="#00f"/>
<circle cx="1207.9" cy="391.7" r="4.6" fill="#f00"/>
<rect x="921.9" y="380.2" width="9.2" height="18.8" rx="4.6" fill="#000"/>
<circle cx="926.5" cy="402.7" r="4.6" fill="#f00"/>
<circle cx="926.5" cy="408.2" r="4.6" fill="#f00"/>
<circle cx="926.5" cy="434.4" r="4.6" fill="#000"/>
<circle cx="939.9" cy="384.8" r="4.6" fill="#000"/>
<circle cx="939.9" cy="389.0" r="4.6" fill="#f00"/>
<circle cx="939.9" cy="397.2" r="4.6" fill="#f00"/>
<circle cx="939.9" cy="408.2" r="4.6" fill="#f00"/>
<circle cx="939.9" cy="427.5" r="4.6" fill="#f00"/>
<circle cx="939.9" cy="452.3" r="4.6" fill="#008000"/>
<rect x="948.7" y="380.2" width="9.2" height="14.7" rx="4.6" fill="#000"/>
<circle cx="953.3" cy="398.6" r="4.6" fill="#00f"/>
<circle cx="953.3" cy="404.1" r="4.6" fill="#f00"/>
<rect x="962.1" y="380.2" width="9.2" height="29.9" rx="4.6" fill="#000"/>
<circle cx="966.7" cy="390.4" r="4.6" fill="#f00"/>
<circle cx="966.7" cy="397.2" r="4.6" fill="#f00"/>
<circle cx="966.7" cy="405.5" r="4.6" fill="#000"/>
<rect x="975.5" y="380.2" width="9.2" height="23.0" rx="4.6" fill="#000"/>
<circle cx="980.1" cy="404.1" r="4.6" fill="#f00"/>
<circle cx="980.1" cy="445.4" r="4.6" fill="#f00"/>
<circle cx="980.1" cy="446.8" r="4.6" fill="#000"/>
<circle cx="993.5" cy="384.8" r="4.6" fill="#000"/>
<circle cx="993.5" cy="393.1" r="4.6" fill="#00f"/>
<circle cx="993.5" cy="389.0" r="4.6" fill="#f00"/>
<circle cx="993.5" cy="398.6" r="4.6" fill="#000"/>
<circle cx="993.5" cy="402.7" r="4.6" fill="#00f"/>
<circle cx="993.5" cy="400.0" r="4.6" fill="#000"/>
<circle cx="993.5" cy="412.4" r="4.6" fill="#f00"/>
<circle cx="993.5" cy="435.8" r="4.6" fill="#00f"/>
<rect x="1002.3" y="380.2" width="9.2" height="17.5" rx="4.6" fill="#f00"/>
<circle cx="1006.9" cy="400.0" r="4.6" fill="#000"/>
<circle cx="1006.9" cy="405.5" r="4.6" fill="#000"/>
<circle cx="1006.9" cy="416.5" r="4.6" fill="#008000"/>
<circle cx="1006.9" cy="427.5" r="4.6" fill="#008000"/>
<circle cx="1006.9" cy="439.9" r="4.6" fill="#00f"/>
<circle cx="1006.9" cy="449.5" r="4.6" fill="#008000"/>
<circle cx="1020.3" cy="389.0" r="4.6" fill="#000"/>
<circle cx="1020.3" cy="397.2" r="4.6" fill="#00f"/>
<circle cx="1020.3" cy="404.1" r="4.6" fill="#f00"/>
<circle cx="1020.3" cy="402.7" r="4.6" fill="#000"/>
<circle cx="1020.3" cy="415.1" r="4.6" fill="#00f"/>
<circle cx="1033.7" cy="389.0" r="4.6" fill="#000"/>
<circle cx="1033.7" cy="394.5" r="4.6" fill="#000"/>
<circle cx="1033.7" cy="402.7" r="4.6" fill="#f00"/>
<circle cx="1033.7" cy="408.2" r="4.6" fill="#000"/>
<circle cx="1033.7" cy="430.3" r="4.6" fill="#008000"/>
<circle cx="1033.7" cy="435.8" r="4.6" fill="#00f"/>
<circle cx="1033.7" cy="448.2" r="4.6" fill="#00f"/>
<circle cx="1033.7" cy="446.8" r="4.6" fill="#000"/>
<circle cx="1047.1" cy="389.0" r="4.6" fill="#000"/>
<circle cx="1047.1" cy="394.5" r="4.6" fill="#00f"/>
<circle cx="1047.1" cy="397.2" r="4.6" fill="#000"/>
<circle cx="1047.1" cy="404.1" r="4.6" fill="#f00"/>
<circle cx="1047.1" cy="412.4" r="4.6" fill="#008000"/>
<circle cx="1047.1" cy="416.5" r="4.6" fill="#00f"/>
<circle cx="1047.1" cy="424.8" r="4.6" fill="#008000"/>
<circle cx="1047.1" cy="431.7" r="4.6" fill="#f00"/>
<circle cx="1060.5" cy="389.0" r="4.6" fill="#000"/>
<circle cx="1060.5" cy="394.5" r="4.6" fill="#f00"/>
<circle cx="1060.5" cy="401.4" r="4.6" fill="#000"/>
<circle cx="1060.5" cy="406.9" r="4.6" fill="#000"/>
<circle cx="1060.5" cy="412.4" r="4.6" fill="#f00"/>
<circle cx="1060.5" cy="420.6" r="4.6" fill="#008000"/>
<circle cx="1060.5" cy="430.3" r="4.6" fill="#f00"/>
<circle cx="1060.5" cy="433.0" r="4.6" fill="#000"/>
<circle cx="1060.5" cy="438.5" r="4.6" fill="#00f"/>
<circle cx="1060.5" cy="446.8" r="4.6" fill="#00f"/>
<circle cx="1060.5" cy="444.0" r="4.6" fill="#008000"/>
<rect x="1069.3" y="380.2" width="9.2" height="20.2" rx="4.6" fill="#000"/>
<circle cx="1073.9" cy="401.4" r="4.6" fill="#00f"/>
<circle cx="1073.9" cy="406.9" r="4.6" fill="#f00"/>
<circle cx="1073.9" cy="431.7" r="4.6" fill="#008000"/>
<circle cx="1073.9" cy="439.9" r="4.6" fill="#000"/>
<circle cx="1073.9" cy="448.2" r="4.6" fill="#f00"/>
<circle cx="1073.9" cy="452.3" r="4.6" fill="#008000"/>
<rect x="1082.7" y="380.2" width="9.2" height="28.5" rx="4.6" fill="#000"/>
<circle cx="1087.3" cy="390.4" r="4.6" fill="#f00"/>
<circle cx="1087.3" cy="406.9" r="4.6" fill="#008000"/>
<circle cx="1087.3" cy="413.8" r="4.6" fill="#f00"/>
<rect x="1082.7" y="413.3" width="9.2" height="20.2" rx="4.6" fill="#008000"/>
<circle cx="1087.3" cy="435.8" r="4.6" fill="#00f"/>
<rect x="1082.7" y="436.7" width="9.2" height="18.8" rx="4.6" fill="#008000"/>
<circle cx="1087.3" cy="452.3" r="4.6" fill="#f00"/>
<rect x="1096.1" y="380.2" width="9.2" height="14.7" rx="4.6" fill="#000"/>
<circle cx="1100.7" cy="394.5" r="4.6" fill="#f00"/>
<circle cx="1100.7" cy="397.2" r="4.6" fill="#000"/>
<circle cx="1100.7" cy="404.1" r="4.6" fill="#008000"/>
<circle cx="1100.7" cy="412.4" r="4.6" fill="#008000"/>
<circle cx="1100.7" cy="416.5" r="4.6" fill="#f00"/>
<circle cx="1100.7" cy="408.2" r="4.6" fill="#00f"/>
<rect x="1096.1" y="420.2" width="9.2" height="24.3" rx="4.6" fill="#00f"/>
<circle cx="1100.7" cy="448.2" r="4.6" fill="#000"/>
<circle cx="1114.1" cy="387.6" r="4.6" fill="#f00"/>
<rect x="1109.5" y="387.1" width="9.2" height="29.9" rx="4.6" fill="#000"/>
<circle cx="1114.1" cy="401.4" r="4.6" fill="#f00"/>
<circle cx="1114.1" cy="416.5" r="4.6" fill="#008000"/>
<circle cx="1114.1" cy="430.3" r="4.6" fill="#000"/>
<circle cx="1114.1" cy="435.8" r="4.6" fill="#00f"/>
<circle cx="1114.1" cy="444.0" r="4.6" fill="#00f"/>
<circle cx="1114.1" cy="449.5" r="4.6" fill="#f00"/>
<circle cx="1127.5" cy="386.2" r="4.6" fill="#000"/>
<circle cx="1127.5" cy="389.0" r="4.6" fill="#f00"/>
<circle cx="1127.5" cy="395.9" r="4.6" fill="#00f"/>
<circle cx="1127.5" cy="404.1" r="4.6" fill="#f00"/>
<rect x="1122.9" y="403.6" width="9.2" height="23.0" rx="4.6" fill="#000"/>
<circle cx="1127.5" cy="427.5" r="4.6" fill="#008000"/>
<rect x="1122.9" y="429.8" width="9.2" height="13.3" rx="4.6" fill="#00f"/>
<circle cx="1127.5" cy="444.0" r="4.6" fill="#000"/>
<circle cx="1127.5" cy="446.8" r="4.6" fill="#f00"/>
<circle cx="1127.5" cy="455.1" r="4.6" fill="#f00"/>
<rect x="1136.3" y="380.2" width="9.2" height="29.9" rx="4.6" fill="#00f"/>
<circle cx="1140.9" cy="411.0" r="4.6" fill="#f00"/>
<rect x="1136.3" y="413.3" width="9.2" height="18.8" rx="4.6" fill="#008000"/>
<rect x="1136.3" y="422.9" width="9.2" height="38.1" rx="4.6" fill="#00f"/>
<rect x="1149.7" y="380.2" width="9.2" height="36.7" rx="4.6" fill="#000"/>
<circle cx="1154.3" cy="402.7" r="4.6" fill="#00f"/>
<rect x="1149.7" y="411.9" width="9.2" height="25.7" rx="4.6" fill="#008000"/>
<rect x="1149.7" y="431.2" width="9.2" height="29.9" rx="4.6" fill="#00f"/>
<circle cx="1154.3" cy="453.7" r="4.6" fill="#000"/>
<rect x="1163.1" y="380.2" width="9.2" height="38.1" rx="4.6" fill="#000"/>
<circle cx="1167.7" cy="393.1" r="4.6" fill="#f00"/>
<circle cx="1167.7" cy="416.5" r="4.6" fill="#00f"/>
<rect x="1163.1" y="416.0" width="9.2" height="32.6" rx="4.6" fill="#008000"/>
<circle cx="1167.7" cy="450.9" r="4.6" fill="#000"/>
<circle cx="1167.7" cy="455.1" r="4.6" fill="#00f"/>
<rect x="1176.5" y="380.2" width="9.2" height="21.6" rx="4.6" fill="#00f"/>
<circle cx="1181.1" cy="404.1" r="4.6" fill="#00f"/>
<circle cx="1181.1" cy="412.4" r="4.6" fill="#f00"/>
<circle cx="1181.1" cy="419.3" r="4.6" fill="#008000"/>
<circle cx="1181.1" cy="424.8" r="4.6" fill="#000"/>
<rect x="1176.5" y="422.9" width="9.2" height="20.2" rx="4.6" fill="#008000"/>
<circle cx="1181.1" cy="441.3" r="4.6" fill="#00f"/>
<circle cx="1181.1" cy="445.4" r="4.6" fill="#f00"/>
<circle cx="1181.1" cy="450.9" r="4.6" fill="#00f"/>
<circle cx="1194.5" cy="384.8" r="4.6" fill="#f00"/>
<circle cx="1194.5" cy="389.0" r="4.6" fill="#000"/>
<circle cx="1194.5" cy="393.1" r="4.6" fill="#00f"/>
<rect x="1189.9" y="392.6" width="9.2" height="17.5" rx="4.6" fill="#000"/>
<rect x="1189.9" y="403.6" width="9.2" height="18.8" rx="4.6" fill="#008000"/>
<circle cx="1194.5" cy="420.6" r="4.6" fill="#f00"/>
<circle cx="1194.5" cy="426.1" r="4.6" fill="#008000"/>
<circle cx="1194.5" cy="433.0" r="4.6" fill="#000"/>
<circle cx="1194.5" cy="442.7" r="4.6" fill="#008000"/>
<circle cx="1194.5" cy="448.2" r="4.6" fill="#f00"/>
<circle cx="1194.5" cy="453.7" r="4.6" fill="#00f"/>
<circle cx="1207.9" cy="387.6" r="4.6" fill="#00f"/>
<circle cx="1207.9" cy="394.5" r="4.6" fill="#f00"/>
<circle cx="1207.9" cy="406.9" r="4.6" fill="#00f"/>
<circle cx="1207.9" cy="435.8" r="4.6" fill="#00f"/>
<circle cx="966.7" cy="460.6" r="4.6" fill="#f00"/>
<circle cx="1033.7" cy="471.6" r="4.6" fill="#f00"/>
<circle cx="1033.7" cy="477.1" r="4.6" fill="#000"/>
<circle cx="1047.1" cy="471.6" r="4.6" fill="#000"/>
<circle cx="1060.5" cy="474.3" r="4.6" fill="#f00"/>
<circle cx="1060.5" cy="478.5" r="4.6" fill="#f00"/>
<circle cx="1073.9" cy="461.9" r="4.6" fill="#000"/>
<circle cx="1073.9" cy="467.4" r="4.6" fill="#f00"/>
<circle cx="1073.9" cy="478.5" r="4.6" fill="#000"/>
<circle cx="1087.3" cy="478.5" r="4.6" fill="#000"/>
<circle cx="1087.3" cy="474.3" r="4.6" fill="#f00"/>
<circle cx="1100.7" cy="463.3" r="4.6" fill="#00f"/>
<circle cx="1100.7" cy="477.1" r="4.6" fill="#f00"/>
<circle cx="1100.7" cy="481.2" r="4.6" fill="#f00"/>
<circle cx="1114.1" cy="473.0" r="4.6" fill="#f00"/>
<circle cx="1114.1" cy="481.2" r="4.6" fill="#000"/>
<circle cx="1114.1" cy="506.0" r="4.6" fill="#f00"/>
<circle cx="1127.5" cy="455.1" r="4.6" fill="#f00"/>
<circle cx="1127.5" cy="459.2" r="4.6" fill="#f00"/>
<circle cx="1127.5" cy="464.7" r="4.6" fill="#00f"/>
<circle cx="1127.5" cy="471.6" r="4.6" fill="#00f"/>
<rect x="1122.9" y="475.2" width="9.2" height="14.7" rx="4.6" fill="#000"/>
<circle cx="1127.5" cy="495.0" r="4.6" fill="#000"/>
<circle cx="1140.9" cy="455.1" r="4.6" fill="#00f"/>
<circle cx="1140.9" cy="481.2" r="4.6" fill="#f00"/>
<rect x="1136.3" y="460.1" width="9.2" height="23.0" rx="4.6" fill="#00f"/>
<circle cx="1154.3" cy="455.1" r="4.6" fill="#000"/>
<circle cx="1154.3" cy="459.2" r="4.6" fill="#00f"/>
<circle cx="1154.3" cy="464.7" r="4.6" fill="#000"/>
<circle cx="1154.3" cy="470.2" r="4.6" fill="#00f"/>
<rect x="1149.7" y="467.0" width="9.2" height="17.5" rx="4.6" fill="#f00"/>
<circle cx="1154.3" cy="485.3" r="4.6" fill="#00f"/>
<circle cx="1154.3" cy="490.8" r="4.6" fill="#000"/>
<circle cx="1154.3" cy="496.4" r="4.6" fill="#f00"/>
<circle cx="1167.7" cy="450.9" r="4.6" fill="#000"/>
<rect x="1163.1" y="450.5" width="9.2" height="20.2" rx="4.6" fill="#00f"/>
<circle cx="1167.7" cy="470.2" r="4.6" fill="#f00"/>
<circle cx="1167.7" cy="481.2" r="4.6" fill="#000"/>
<circle cx="1167.7" cy="478.5" r="4.6" fill="#00f"/>
<circle cx="1167.7" cy="484.0" r="4.6" fill="#00f"/>
<circle cx="1167.7" cy="495.0" r="4.6" fill="#00f"/>
<circle cx="1181.1" cy="452.3" r="4.6" fill="#00f"/>
<rect x="1176.5" y="454.6" width="9.2" height="21.6" rx="4.6" fill="#000"/>
<circle cx="1181.1" cy="481.2" r="4.6" fill="#00f"/>
<circle cx="1181.1" cy="478.5" r="4.6" fill="#f00"/>
<circle cx="1181.1" cy="489.5" r="4.6" fill="#000"/>
<circle cx="1181.1" cy="497.7" r="4.6" fill="#00f"/>
<circle cx="1181.1" cy="496.4" r="4.6" fill="#f00"/>
<circle cx="1181.1" cy="492.2" r="4.6" fill="#00f"/>
<circle cx="1194.5" cy="453.7" r="4.6" fill="#00f"/>
<circle cx="1194.5" cy="464.7" r="4.6" fill="#f00"/>
<circle cx="1194.5" cy="471.6" r="4.6" fill="#00f"/>
<circle cx="1194.5" cy="479.8" r="4.6" fill="#f00"/>
<circle cx="1194.5" cy="478.5" r="4.6" fill="#f00"/>
<circle cx="1194.5" cy="486.7" r="4.6" fill="#000"/>
<circle cx="1194.5" cy="490.8" r="4.6" fill="#00f"/>
<circle cx="1194.5" cy="499.1" r="4.6" fill="#f00"/>
<rect x="1189.9" y="491.8" width="9.2" height="17.5" rx="4.6" fill="#000"/>
<circle cx="1207.9" cy="467.4" r="4.6" fill="#00f"/>
<circle cx="1207.9" cy="492.2" r="4.6" fill="#00f"/>
</g>
</svg>
</body></html>
